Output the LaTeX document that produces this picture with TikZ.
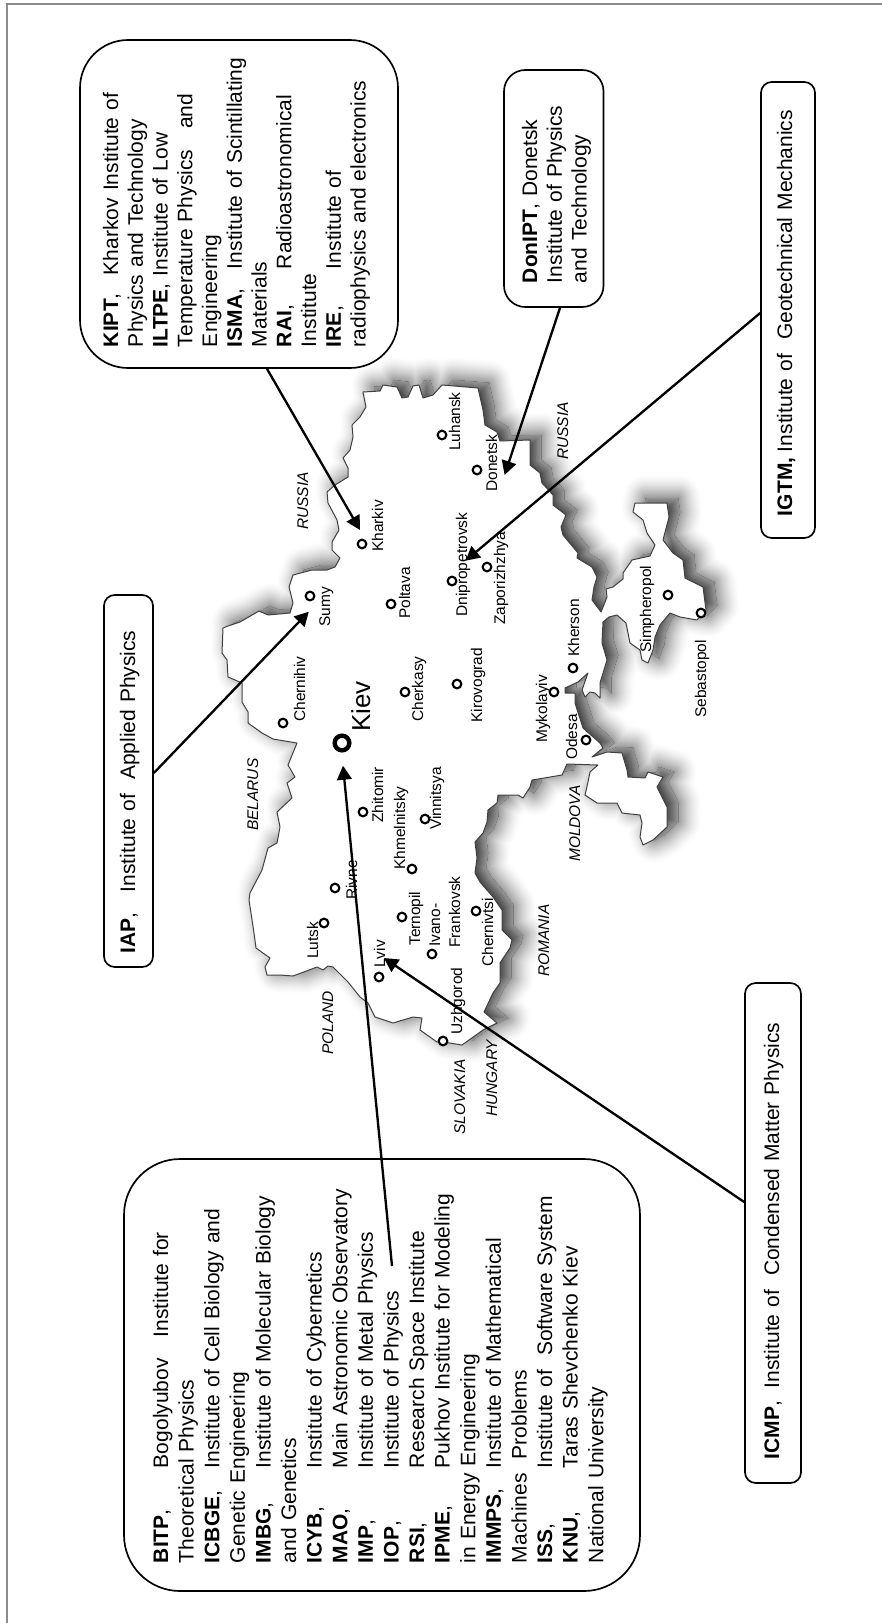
\documentclass[tikz,border=0pt]{standalone}
\usepackage{fontspec}
\setmainfont{Liberation Sans}
\usetikzlibrary{arrows.meta}
\newdimen\pxu \pxu=0.75pt
\newcommand\J[2]{\makebox[#1\pxu][s]{#2}}
\newcommand\Tb[4]{\makebox[#1\pxu][l]{#2}\makebox[#3\pxu][s]{#4}}
\newcommand\St[2]{\rule[-#2\pxu]{0pt}{\dimexpr#1\pxu+#2\pxu\relax}}
\newcommand\ukr{(223,628)--(228,626)--(240,622)--(259,611)--(268,615)--(290,613)--(293,603)--(289,587)--(293,575)--(312,570)--(327,570)--(335,567)--(340,558)--(332,550)--(332,542)--(339,530)--(337,520)--(328,503)--(327,492)--(335,485)--(348,477)--(348,468)--(343,458)--(350,450)--(353,437)--(352,425)--(360,417)--(366,407)--(363,392)--(380,391)--(383,385)--(397,387)--(402,398)--(408,397)--(413,386)--(419,385)--(423,398)--(433,395)--(442,385)--(478,388)--(483,410)--(485,425)--(497,432)--(500,441)--(530,440)--(530,465)--(540,473)--(542,483)--(553,495)--(553,505)--(566,515)--(561,527)--(563,535)--(578,553)--(577,558)--(592,567)--(597,577)--(594,587)--(592,600)--(601,612)--(607,597)--(606,589)--(613,587)--(623,579)--(623,573)--(632,560)--(650,556)--(655,545)--(647,533)--(643,520)--(633,512)--(635,503)--(667,503)--(669,517)--(663,540)--(673,553)--(683,560)--(685,578)--(703,587)--(706,610)--(697,620)--(680,617)--(670,613)--(660,625)--(655,637)--(653,650)--(648,663)--(642,660)--(640,650)--(630,643)--(626,623)--(617,615)--(609,617)--(603,622)--(602,643)--(607,660)--(600,683)--(600,698)--(595,693)--(590,692)--(585,697)--(582,690)--(588,673)--(578,682)--(565,688)--(565,693)--(575,693)--(575,703)--(583,728)--(600,743)--(603,748)--(592,757)--(607,752)--(622,753)--(627,770)--(628,777)--(645,778)--(648,772)--(663,777)--(657,787)--(667,807)--(667,827)--(653,840)--(643,845)--(640,837)--(642,823)--(640,815)--(622,813)--(617,803)--(597,803)--(585,795)--(588,782)--(590,772)--(598,765)--(567,764)--(562,775)--(532,780)--(530,787)--(523,798)--(518,795)--(498,795)--(497,803)--(488,810)--(487,822)--(483,833)--(475,842)--(477,858)--(475,873)--(480,882)--(493,897)--(502,910)--(502,930)--(512,940)--(510,948)--(500,963)--(500,983)--(493,993)--(484,1012)--(497,1023)--(483,1030)--(462,1045)--(450,1043)--(437,1042)--(420,1030)--(422,1018)--(413,1017)--(393,1023)--(375,1017)--(368,1003)--(360,997)--(348,982)--(333,967)--(328,966)--(323,970)--(317,967)--(293,976)--(280,975)--(267,975)--(265,967)--(270,958)--(256,948)--(254,933)--(249,900)--(250,893)--(262,870)--(268,848)--(277,843)--(280,827)--(277,812)--(292,798)--(287,783)--(295,777)--(288,765)--(297,743)--(273,739)--(262,733)--(248,723)--(248,712)--(242,702)--(242,683)--(228,677)--(227,660)--(222,653)--cycle}
\tikzset{
  tbox/.style={draw=black,line width=1.25pt,rotate=90,inner xsep=0pt,inner ysep=0pt,align=left,fill=white},
  bodyfont/.style={font=\fontsize{15.75}{#1}\selectfont},
  ring/.style={circle,draw=black,line width=1.6pt,inner sep=0pt,minimum size=6.5pt,fill=white},
  citylab/.style={anchor=base west,rotate=90,inner sep=0pt,text=black,font=\fontsize{11.6}{12}\selectfont},
  landlab/.style={citylab,font=\fontsize{11.6}{12}\selectfont\itshape},
  pointer/.style={line width=1.75pt,-{Triangle[length=10.5pt,width=11pt]}},
}
\newcommand\cty[6]{\node[ring] (r#1) at (#2,#3) {};\node[citylab] (t#1) at (#5,#6) {#4};}
\newcommand\lnd[4]{\node[landlab] (#1) at (#2,#3) {#4};}
\begin{document}
\begin{tikzpicture}[x=0.75pt,y=-0.75pt]
\useasboundingbox (0,0) rectangle (882,1623);
\draw[black!45,line width=0.8pt] (7,1623) -- (7,4) -- (882,4);
% soft shadow: outer ramp, then inner ramp clipped to the offset outline
\begin{scope}[shift={(11,-5)},line join=round]
  \foreach \d in {24,23,...,1}{
    \pgfmathsetmacro\c{40*pow(1-\d/24,1.5)}
    \draw[line width=1.5*\d pt,draw=black!\c] \ukr;
  }
  \begin{scope}
    \clip \ukr;
    \fill[black!72] \ukr;
    \foreach \d in {12,11,...,1}{
      \pgfmathsetmacro\c{72-32*(1-\d/12)}
      \draw[line width=1.5*\d pt,draw=black!\c] \ukr;
    }
  \end{scope}
\end{scope}
\fill[white] \ukr;
\draw[black!75,line width=0.75pt,line join=round] \ukr;
% cities
\cty{chernihiv}{283}{723}{Chernihiv}{305}{722}
\cty{cherkasy}{405}{692}{Cherkasy}{423}{722}
\cty{kirovograd}{457}{684}{Kirovograd}{482}{723}
\cty{zhitomir}{363}{812}{Zhitomir}{383}{823}
\cty{vinnitsya}{425}{819}{Vinnitsya}{441}{830}
\cty{khmelnitsky}{412}{869}{Khmelnitsky}{405}{870}
\cty{rivne}{335}{888}{Rivne}{357}{900}
\cty{lutsk}{324}{923}{Lutsk}{318}{959}
\cty{ternopil}{402}{917}{Ternopil}{420}{946}
\cty{ivano}{432}{954}{Ivano-}{440}{947}
\node[citylab] (tfrankovsk) at (460,948) {Frankovsk};
\cty{chernivtsi}{476}{911}{Chernivtsi}{493}{967}
\cty{lviv}{379}{977}{Lviv}{385}{968}
\cty{uzhgorod}{443}{1041}{Uzhgorod}{462}{1035}
\cty{sumy}{310}{596}{Sumy}{330}{627}
\cty{kharkiv}{362}{544}{Kharkiv}{383}{552}
\cty{poltava}{391}{604}{Poltava}{410}{619}
\cty{luhansk}{442}{435}{Luhansk}{460}{451}
\cty{donetsk}{477}{470}{Donetsk}{497}{492}
\cty{dnipro}{452}{581}{Dnipropetrovsk}{467}{617}
\cty{zapo}{487}{567}{Zaporizhzhya}{505}{625}
\cty{kherson}{573}{668}{Kherson}{579}{657}
\cty{simph}{668}{595}{Simpheropol}{651}{653}
\cty{sebast}{701}{613}{Sebastopol}{706}{718}
\cty{mykol}{554}{692}{Mykolayiv}{547}{743}
\cty{odesa}{586}{740}{Odesa}{577}{760}
\node[ring,minimum size=11pt,line width=3.3pt,draw=black] (rkiev) at (342,743) {};
\node[citylab,text=black,font=\fontsize{19.5}{20}\selectfont] (tkiev) at (370,732) {Kiev};
% neighbours
\lnd{russiaN}{308}{530}{RUSSIA}
\lnd{russiaE}{568}{460}{RUSSIA}
\lnd{belarus}{258}{831}{BELARUS}
\lnd{poland}{333}{1055}{POLAND}
\lnd{slovakia}{465}{1135}{SLOVAKIA}
\lnd{hungary}{497}{1117}{HUNGARY}
\lnd{romania}{549}{977}{ROMANIA}
\lnd{moldova}{580}{862}{MOLDOVA}
% boxes
\node[tbox,bodyfont=18.56,rounded corners=36pt,minimum width=328\pxu,minimum height=318\pxu,text width=286\pxu] (kipt) at (239,204) {%
\Tb{72}{\textbf{KIPT},}{180}{Kharkov Institute of}\\
\J{235}{Physics and Technology}\\
\textbf{ILTPE}, \J{167}{Institute of Low}\\
\J{251.7}{Temperature Physics\ \ \ and}\\
Engineering\\
\Tb{78}{\textbf{ISMA},}{208}{Institute of Scintillating}\\
Materials\\
\Tb{78}{\textbf{RAI},}{174}{Radioastronomical}\\
Institute\\
\Tb{78}{\textbf{IRE},}{95}{Institute of}\\
radiophysics and electronics\St{0}{9.5}};
\node[tbox,bodyfont=18.6,rounded corners=16pt,minimum width=237\pxu,minimum height=99.5\pxu,text width=189\pxu] (don) at (553.75,188.5) {%
\J{168}{\textbf{DonIPT},\St{20.5}{0} Donetsk}\\
\J{181.7}{Institute of Physics}\\
and Technology};
\node[tbox,bodyfont=19,rounded corners=8pt,minimum width=456\pxu,minimum height=54\pxu,text width=412\pxu] (igtm) at (788,310) {%
\Tb{64}{\textbf{IGTM,}\St{15.3}{7.3}}{339}{Institute of\ \ Geotechnical Mechanics}};
\node[tbox,bodyfont=19,rounded corners=8pt,minimum width=372\pxu,minimum height=49\pxu,text width=344\pxu] (iap) at (128.5,781) {%
\Tb{61}{\textbf{IAP},\St{17.5}{4.5}}{264}{Institute of\ \ Applied Physics}};
\node[tbox,bodyfont=19,rounded corners=8pt,minimum width=500\pxu,minimum height=56\pxu,text width=452\pxu] (icmp) at (773,1233) {%
\Tb{71}{\textbf{ICMP},\St{16.4}{4.4}}{363}{Institute of\ \ Condensed Matter Physics}};
\node[tbox,bodyfont=19.2,rounded corners=42pt,minimum width=432\pxu,minimum height=516\pxu,text width=376\pxu] (big) at (382,1375) {%
\Tb{95}{\textbf{BITP},}{224}{Bogolyubov\ \ \ Institute for}\\
\J{182}{Theoretical Physics}\\
\Tb{95}{\textbf{ICBGE},}{253}{Institute of Cell Biology and}\\
\J{189}{Genetic Engineering}\\
\Tb{95}{\textbf{IMBG},}{269}{Institute of Molecular Biology}\\
\J{123}{and Genetics}\\
\Tb{95}{\textbf{ICYB},}{213}{Institute of Cybernetics}\\
\Tb{95}{\textbf{MAO},}{280}{Main Astronomic Observatory}\\
\Tb{95}{\textbf{IMP},}{233}{Institute of Metal Physics}\\
\Tb{95}{\textbf{IOP},}{175}{Institute of Physics}\\
\Tb{95}{\textbf{RSI},}{233}{Research Space Institute}\\
\Tb{95}{\textbf{IPME},}{269}{Pukhov Institute for Modeling}\\
\J{207}{in Energy Engineering}\\
\Tb{95}{\textbf{IMMPS},}{225}{Institute of Mathematical}\\
\J{190}{Machines\ \ Problems}\\
\Tb{95}{\textbf{ISS},}{265}{Institute of\ \ Software System}\\
\Tb{95}{\textbf{KNU},}{220}{Taras Shevchenko Kiev}\\
\J{174}{National University}\St{0}{7.8}};
% connectors
\coordinate (tipKharkiv) at (360,530);
\coordinate (tipDonetsk) at (504.6,475);
\coordinate (tipDnipro) at (465.6,560.7);
\coordinate (tipSumy) at (308.8,611.7);
\coordinate (tipLviv) at (384,958);
\coordinate (tipKiev) at (343,765.7);
\draw[pointer] ([xshift=28\pxu]kipt.west) -- (tipKharkiv);
\draw[pointer] ([xshift=6.25\pxu]don.west) -- (tipDonetsk);
\draw[pointer] ([yshift=-3\pxu]igtm.north) -- (tipDnipro);
\draw[pointer] ([yshift=8\pxu]iap.south) -- (tipSumy);
\draw[pointer] ([yshift=31\pxu]icmp.north) -- (tipLviv);
\draw[pointer] ([xshift=10\pxu,yshift=109\pxu]big.center) -- (tipKiev);
\end{tikzpicture}
\end{document}
